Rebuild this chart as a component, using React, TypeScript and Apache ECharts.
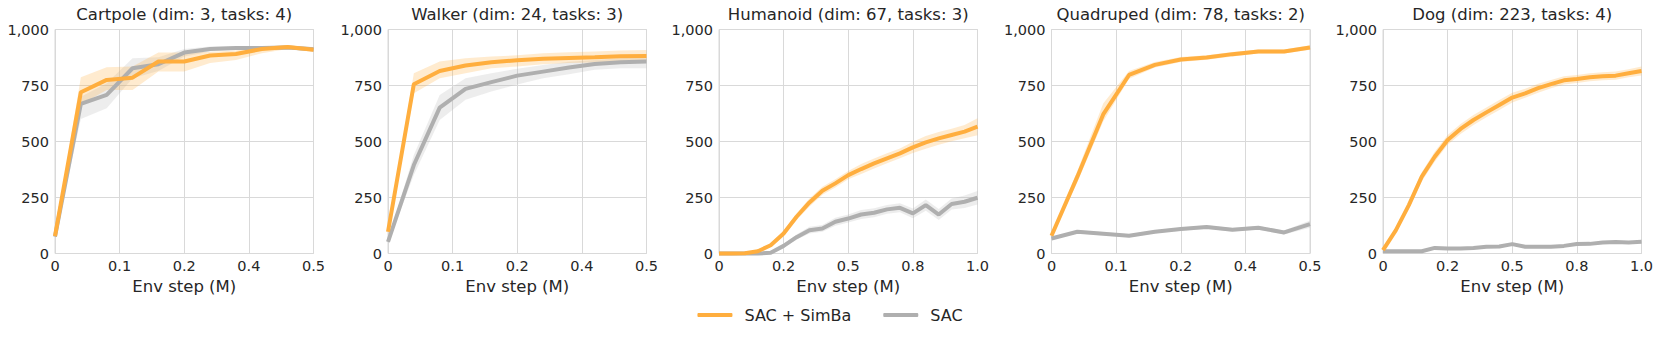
import React, { useEffect, useRef } from "react";
import * as echarts from "echarts";

// ---------- data ----------
const TITLES = [
  "Cartpole (dim: 3, tasks: 4)",
  "Walker (dim: 24, tasks: 3)",
  "Humanoid (dim: 67, tasks: 3)",
  "Quadruped (dim: 78, tasks: 2)",
  "Dog (dim: 223, tasks: 4)",
];
const X_NAME = "Env step (M)";
const SIMBA = "SAC + SimBa";
const SAC = "SAC";

const X_HALF = [0, 0.05, 0.1, 0.15, 0.2, 0.25, 0.3, 0.35, 0.4, 0.45, 0.5];
const X_FULL = [0, 0.05, 0.1, 0.15, 0.2, 0.25, 0.3, 0.35, 0.4, 0.45, 0.5, 0.55, 0.6, 0.65, 0.7, 0.75, 0.8, 0.85, 0.9, 0.95, 1.0];
const TICKS_HALF = ["0", "0.1", "0.2", "0.4", "0.5"];
const TICKS_FULL = ["0", "0.2", "0.5", "0.8", "1.0"];
const Y_TICKS = ["0", "250", "500", "750", "1,000"];

// Cartpole
const cartSimba = [78, 720, 775, 785, 857, 857, 884, 891, 913, 922, 910];
const cartSimbaLo = [70, 665, 730, 730, 812, 812, 850, 864, 894, 913, 899];
const cartSimbaHi = [86, 787, 832, 835, 897, 897, 900, 906, 924, 931, 921];
const cartSac = [75, 668, 708, 827, 845, 897, 913, 917, 917, 920, 912];
const cartSacLo = [68, 600, 648, 782, 815, 879, 902, 908, 908, 912, 902];
const cartSacHi = [82, 700, 760, 872, 876, 913, 924, 926, 926, 928, 922];

// Walker
const walkSimba = [97, 756, 815, 839, 854, 863, 869, 873, 876, 881, 882];
const walkSimbaLo = [85, 715, 782, 805, 827, 835, 845, 850, 853, 857, 860];
const walkSimbaHi = [110, 805, 857, 872, 879, 885, 894, 898, 902, 906, 909];
const walkSac = [52, 395, 651, 735, 765, 794, 812, 830, 846, 854, 857];
const walkSacLo = [45, 350, 596, 686, 723, 755, 782, 800, 820, 827, 827];
const walkSacHi = [60, 440, 708, 782, 805, 825, 842, 856, 864, 872, 879];

// Humanoid
const humSimba = [0, 0, 1, 10, 37, 89, 164, 228, 280, 313, 350, 377, 402, 425, 447, 474, 496, 514, 529, 544, 566];
const humSimbaLo = [0, 0, 0, 6, 29, 77, 149, 210, 262, 295, 332, 355, 380, 403, 425, 449, 468, 486, 501, 514, 528];
const humSimbaHi = [3, 3, 4, 14, 45, 101, 179, 246, 298, 331, 368, 399, 424, 447, 469, 499, 524, 542, 557, 574, 604];
const humSac = [0, 0, 0, 0, 3, 34, 73, 104, 112, 142, 156, 174, 182, 197, 204, 179, 216, 174, 221, 231, 249];
const humSacLo = [0, 0, 0, 0, 0, 26, 61, 89, 97, 124, 138, 154, 162, 177, 184, 157, 191, 149, 196, 203, 219];
const humSacHi = [1, 1, 1, 1, 6, 42, 85, 119, 127, 160, 174, 194, 202, 217, 224, 201, 241, 199, 246, 259, 279];

// Quadruped
const quadSimba = [79, 343, 621, 797, 842, 866, 875, 890, 902, 902, 920];
const quadSimbaLo = [72, 318, 589, 780, 830, 855, 865, 880, 893, 893, 910];
const quadSimbaHi = [86, 368, 670, 815, 855, 877, 885, 900, 911, 911, 930];
const quadSac = [67, 97, 88, 79, 97, 109, 118, 106, 115, 94, 131];
const quadSacLo = [60, 90, 80, 72, 90, 102, 110, 98, 107, 85, 115];
const quadSacHi = [74, 104, 96, 86, 104, 116, 126, 114, 123, 103, 147];

// Dog
const dogSimba = [15, 104, 216, 343, 432, 507, 556, 596, 630, 663, 696, 715, 738, 756, 773, 779, 787, 791, 794, 805, 815];
const dogSimbaLo = [10, 94, 201, 323, 410, 485, 534, 574, 608, 641, 674, 695, 718, 738, 755, 761, 769, 773, 776, 787, 795];
const dogSimbaHi = [20, 114, 231, 363, 454, 529, 578, 618, 652, 685, 718, 735, 758, 774, 791, 797, 805, 809, 812, 823, 835];
const dogSac = [10, 10, 10, 10, 25, 22, 22, 25, 30, 31, 42, 30, 30, 30, 34, 42, 43, 49, 51, 49, 52];
const dogSacLo = [6, 6, 6, 6, 20, 17, 17, 20, 25, 26, 36, 25, 25, 25, 29, 36, 37, 43, 45, 43, 46];
const dogSacHi = [14, 14, 14, 14, 30, 27, 27, 30, 35, 36, 48, 35, 35, 35, 39, 48, 49, 55, 57, 55, 58];

// ---------- layout / style ----------
const GRID_LEFT = [55, 388, 719, 1051.5, 1383];
const GRID_W = 258.5;
const GRID_TOP = 29.5;
const GRID_H = 224;
const ORANGE = "#FFAE3E";
const GRAY = "#AFAFAF";
const TEXT = "#262626";
const FONT = "DejaVu Sans";
const GRIDLINE = "#d9d9d9";

const PANELS = [
  { x: X_HALF, ticks: TICKS_HALF, max: 0.5, interval: 0.125, simba: cartSimba, simbaLo: cartSimbaLo, simbaHi: cartSimbaHi, sac: cartSac, sacLo: cartSacLo, sacHi: cartSacHi },
  { x: X_HALF, ticks: TICKS_HALF, max: 0.5, interval: 0.125, simba: walkSimba, simbaLo: walkSimbaLo, simbaHi: walkSimbaHi, sac: walkSac, sacLo: walkSacLo, sacHi: walkSacHi },
  { x: X_FULL, ticks: TICKS_FULL, max: 1.0, interval: 0.25, simba: humSimba, simbaLo: humSimbaLo, simbaHi: humSimbaHi, sac: humSac, sacLo: humSacLo, sacHi: humSacHi },
  { x: X_HALF, ticks: TICKS_HALF, max: 0.5, interval: 0.125, simba: quadSimba, simbaLo: quadSimbaLo, simbaHi: quadSimbaHi, sac: quadSac, sacLo: quadSacLo, sacHi: quadSacHi },
  { x: X_FULL, ticks: TICKS_FULL, max: 1.0, interval: 0.25, simba: dogSimba, simbaLo: dogSimbaLo, simbaHi: dogSimbaHi, sac: dogSac, sacLo: dogSacLo, sacHi: dogSacHi },
];

const zip = (xs: number[], ys: number[]) => xs.map((x, i) => [x, ys[i]]);

// band drawn as one polygon through the axis scales (api.coord)
function bandSeries(i: number, xs: number[], lo: number[], hi: number[], color: string, opacity: number) {
  return {
    type: "custom",
    xAxisIndex: i,
    yAxisIndex: i,
    silent: true,
    data: xs.map((x, k) => [x, lo[k], hi[k]]),
    encode: { x: 0, y: [1, 2] },
    renderItem: (params: any, api: any) => {
      if (params.dataIndex !== 0) return null;
      const upper = xs.map((x, k) => api.coord([x, hi[k]]));
      const lower = xs.map((x, k) => api.coord([x, lo[k]])).reverse();
      return {
        type: "polygon",
        shape: { points: upper.concat(lower) },
        style: { fill: color, opacity },
      };
    },
  };
}

function buildOption() {
  const grid: any[] = [];
  const xAxis: any[] = [];
  const yAxis: any[] = [];
  const series: any[] = [];
  const graphic: any[] = [];

  PANELS.forEach((p, i) => {
    grid.push({
      left: GRID_LEFT[i], top: GRID_TOP, width: GRID_W, height: GRID_H,
      show: true, borderColor: GRIDLINE, borderWidth: 1, backgroundColor: "transparent",
    });
    xAxis.push({
      type: "value", gridIndex: i, min: 0, max: p.max, interval: p.interval,
      axisLine: { show: false }, axisTick: { show: false },
      splitLine: { show: true, lineStyle: { color: GRIDLINE, width: 1 } },
      axisLabel: {
        margin: 5, fontSize: 14.5, color: TEXT, fontFamily: FONT,
        formatter: (v: number) => p.ticks[Math.round(v / p.interval)] ?? "",
      },
      name: X_NAME, nameLocation: "middle", nameGap: 24,
      nameTextStyle: { fontSize: 16.5, color: TEXT, fontFamily: FONT },
    });
    yAxis.push({
      type: "value", gridIndex: i, min: 0, max: 1000, interval: 250,
      axisLine: { show: false }, axisTick: { show: false },
      splitLine: { show: true, lineStyle: { color: GRIDLINE, width: 1 } },
      axisLabel: {
        margin: 6, fontSize: 14.5, color: TEXT, fontFamily: FONT,
        formatter: (v: number) => Y_TICKS[Math.round(v / 250)] ?? "",
      },
    });
    const common = { xAxisIndex: i, yAxisIndex: i, symbol: "none", silent: true };
    series.push(bandSeries(i, p.x, p.sacLo, p.sacHi, GRAY, 0.22));
    series.push({ ...common, type: "line", name: SAC, data: zip(p.x, p.sac), color: GRAY, itemStyle: { color: GRAY }, lineStyle: { width: 4, color: GRAY }, clip: false });
    series.push(bandSeries(i, p.x, p.simbaLo, p.simbaHi, ORANGE, 0.25));
    series.push({ ...common, type: "line", name: SIMBA, data: zip(p.x, p.simba), color: ORANGE, itemStyle: { color: ORANGE }, lineStyle: { width: 4, color: ORANGE }, clip: false });

    graphic.push({
      type: "text", x: GRID_LEFT[i] + GRID_W / 2, y: 14,
      style: { text: TITLES[i], align: "center", verticalAlign: "middle", fontSize: 16.5, fill: TEXT, fontFamily: FONT },
    });
  });

  return {
    animation: false,
    textStyle: { fontFamily: FONT },
    grid, xAxis, yAxis, series, graphic,
    legend: {
      data: [SIMBA, SAC], left: "center", top: 307, padding: 0,
      icon: "roundRect", itemWidth: 35, itemHeight: 4, itemGap: 32,
      textStyle: { fontSize: 16, color: TEXT, fontFamily: FONT, padding: [0, 0, 0, 7] },
      selectedMode: false,
    },
  };
}

export default function App() {
  const ref = useRef<HTMLDivElement>(null);
  useEffect(() => {
    if (!ref.current) return;
    const chart = echarts.init(ref.current, undefined, { renderer: "svg" });
    chart.setOption(buildOption() as any);
    return () => chart.dispose();
  }, []);
  return (
    <div
      ref={ref}
      style={{ position: "absolute", left: 0, top: 0, width: 1660, height: 339, background: "#fff" }}
    />
  );
}
